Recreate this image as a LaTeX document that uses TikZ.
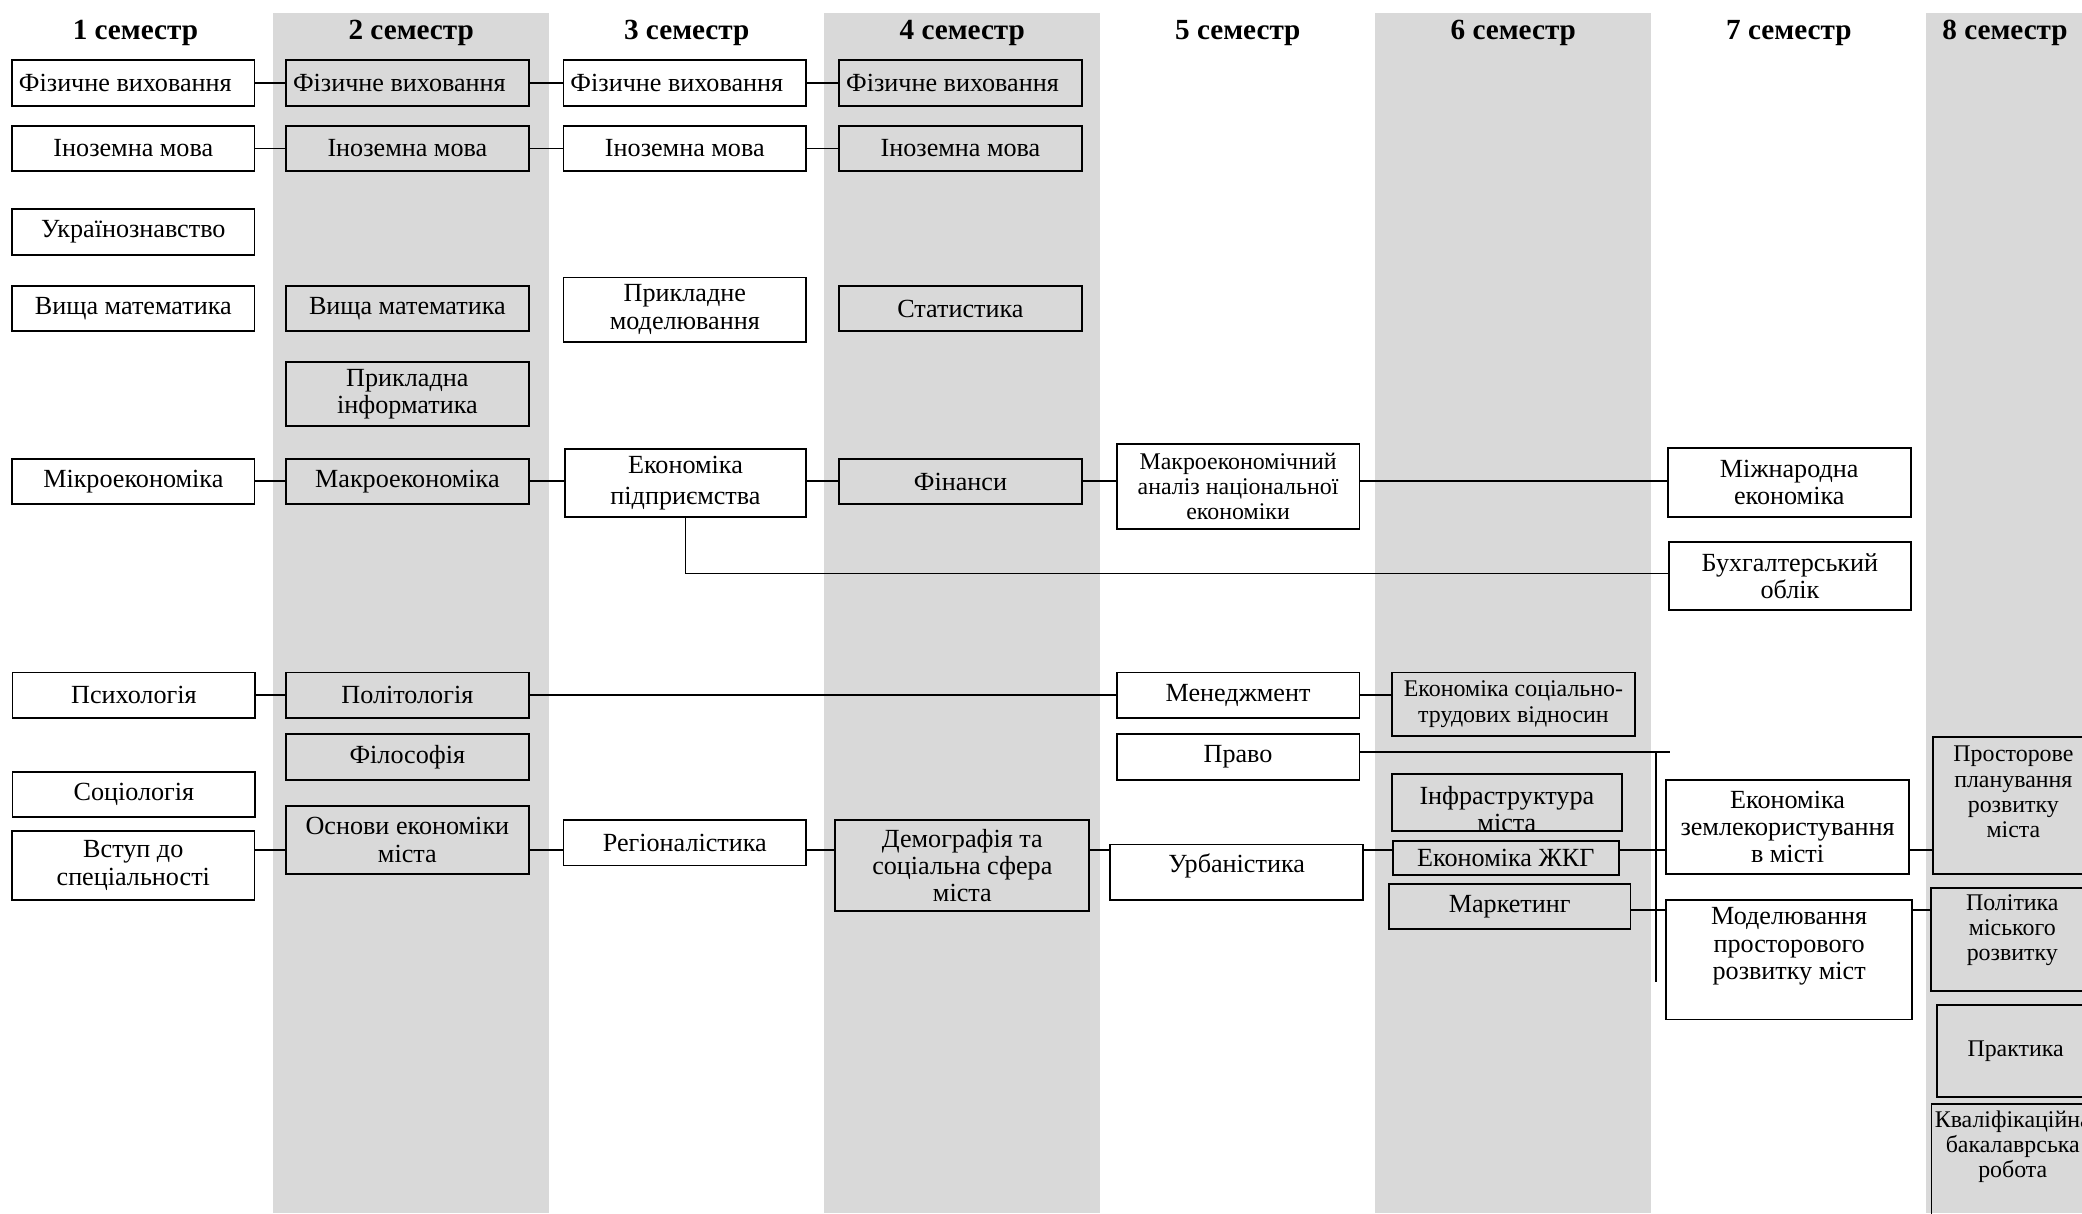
\documentclass[tikz,border=0pt]{standalone}
\usepackage{fontspec}
\setmainfont{Liberation Serif}
\definecolor{colgray}{HTML}{D9D9D9}
\tikzset{
  boxst/.style={draw=black, line width=1.3pt, inner sep=0pt, rectangle},
  txt/.style={align=center, font=\fontsize{19.7}{20.5}\selectfont, inner sep=0pt},
  hdr/.style={font=\fontsize{22}{24}\selectfont\bfseries, inner sep=0pt},
  conn/.style={line width=1.3pt},
  colband/.style={fill=colgray, draw=none}
}
% \bx[text options]{name}{x1}{y1}{x2}{y2}{text}
\newcommand\bx[7][]{%
  \node[boxst, minimum width={(#5-#3)*1pt}, minimum height={(#6-#4)*1pt}] (#2) at ({(#3+#5)/2},{(#4+#6)/2}) {};
  \node[txt,#1] (#2t) at (#2.center) {#7};
}
\begin{document}
\begin{tikzpicture}[x=1pt,y=-1pt]
\useasboundingbox (0,0) rectangle (1568,914);
\clip (0,0) rectangle (1568,914);
% column bands
\path[colband] (205.8,9.5) rectangle (413.5,913.5);
\path[colband] (620.6,9.5) rectangle (828.1,913.5);
\path[colband] (1035.8,9.5) rectangle (1243.4,913.5);
\path[colband] (1450.4,9.5) rectangle (1570,913.5);
% headers
\node[hdr] (h1) at (102,25) {1 семестр};
\node[hdr] (h2) at (309.7,25) {2 семестр};
\node[hdr] (h3) at (517.2,25) {3 семестр};
\node[hdr] (h4) at (724.7,25) {4 семестр};
\node[hdr] (h5) at (932.2,25) {5 семестр};
\node[hdr] (h6) at (1139.7,25) {6 семестр};
\node[hdr] (h7) at (1347.2,25) {7 семестр};
\node[hdr] (h8) at (1510,25) {8 семестр};
% column 1
\bx[xshift=-6pt]{fv1}{9.1}{45.4}{191.7}{79.8}{Фізичне виховання}
\bx{im1}{9.1}{94.7}{191.7}{129}{Іноземна мова}
\bx{ukr}{9.1}{157.6}{191.7}{192}{Українознавство}
\bx{vm1}{9.1}{215.2}{191.7}{249.5}{Вища математика}
\bx{mik}{9.1}{345.7}{191.7}{379.8}{Мікроекономіка}
\bx{psy}{9.4}{506.4}{192.3}{540.5}{Психологія}
\bx{soc}{9.4}{581.2}{192.3}{615.5}{Соціологія}
\bx{vst}{9.1}{625.8}{191.7}{677.8}{Вступ до\\спеціальності}
% column 2
\bx[xshift=-6pt]{fv2}{215.2}{45.4}{398.4}{79.8}{Фізичне виховання}
\bx{im2}{215.2}{94.7}{398.4}{129}{Іноземна мова}
\bx{vm2}{215.2}{215.2}{398.4}{249.5}{Вища математика}
\bx{pinf}{215.2}{272.4}{398.4}{320.8}{Прикладна\\інформатика}
\bx{mak}{215.2}{345.7}{398.4}{379.8}{Макроекономіка}
\bx{pol}{215.2}{506.4}{398.4}{540.5}{Політологія}
\bx{fil}{215.2}{553}{398.4}{587.5}{Філософія}
\bx{osn}{215.2}{607}{398.4}{658.2}{Основи економіки\\міста}
% column 3
\bx[xshift=-6pt]{fv3}{424.3}{45.4}{607.2}{79.8}{Фізичне виховання}
\bx{im3}{424.3}{94.7}{607.2}{129}{Іноземна мова}
\bx{pmod}{424.3}{208.9}{607.2}{257.3}{Прикладне\\моделювання}
\bx[font=\fontsize{19.7}{23.5}\selectfont]{ep}{425.3}{338.2}{607.2}{389.4}{Економіка\\підприємства}
\bx{reg}{424.3}{617.6}{607.2}{651.9}{Регіоналістика}
% column 4
\bx[xshift=-6pt]{fv4}{631.7}{45.4}{815}{79.8}{Фізичне виховання}
\bx{im4}{631.7}{94.7}{815}{129}{Іноземна мова}
\bx{stat}{631.7}{215.2}{815}{249.5}{Статистика}
\bx{fin}{631.7}{345.7}{815}{379.8}{Фінанси}
\bx{dem}{629.1}{617.6}{820.4}{686.1}{Демографія та\\соціальна сфера\\міста}
% column 5
\bx[font=\fontsize{18}{19}\selectfont]{mana}{841}{334.6}{1023.8}{398.4}{Макроекономічний\\аналіз національної\\економіки}
\bx{men}{841}{506.4}{1023.8}{540.5}{Менеджмент}
\bx{pravo}{841}{553}{1023.8}{587.5}{Право}
\bx[yshift=5pt]{urb}{836.2}{635.9}{1026.5}{677.8}{Урбаністика}
% column 6
\bx[font=\fontsize{18}{20}\selectfont]{est}{1048.3}{506.4}{1231.3}{554.3}{Економіка соціально-\\трудових відносин}
\bx[yshift=-5pt]{infr}{1048.3}{583}{1221.4}{625.9}{Інфраструктура\\міста}
\bx{zhkg}{1049}{633.1}{1219.2}{659.2}{Економіка ЖКГ}
\bx{mar}{1046}{665.8}{1228}{699.9}{Маркетинг}
% column 7
\bx{mizh}{1256}{337.6}{1439}{389.4}{Міжнародна\\економіка}
\bx{buh}{1256.7}{408}{1439.3}{459.4}{Бухгалтерський\\облік}
\bx{zem}{1254.9}{587.4}{1437.6}{658.2}{Економіка\\землекористування\\в місті}
\bx[yshift=10pt]{mod}{1254.9}{677.8}{1440}{767.7}{Моделювання\\просторового\\розвитку міст}
% column 8
\bx[font=\fontsize{18}{19}\selectfont,yshift=10pt]{pros}{1455.6}{554.8}{1577}{658.2}{Просторове\\планування\\розвитку\\міста}
\bx[font=\fontsize{18}{19}\selectfont,yshift=7pt]{pmr}{1454}{669}{1577}{746.4}{Політика\\міського\\розвитку}
\bx[font=\fontsize{18}{19}\selectfont]{prak}{1459}{756.9}{1577}{826}{Практика}
\bx[font=\fontsize{18}{19}\selectfont,yshift=17pt]{kval}{1454.7}{831.4}{1577}{930}{Кваліфікаційна\\бакалаврська\\робота}
% helper coordinates
\coordinate (L362) at (0,362);
\coordinate (L432) at (0,432);
\coordinate (L640) at (0,640);
\coordinate (L566) at (0,566.6);
\coordinate (L685) at (0,685.5);
\coordinate (pravoEnd) at (1257.5,566.6);
\coordinate (busT) at (1247,566.6);
\coordinate (busB) at (1247,739.3);
% connectors
\draw[conn] (fv1.east) -- (fv2.west);
\draw[conn] (fv2.east) -- (fv3.west);
\draw[conn] (fv3.east) -- (fv4.west);
\draw[conn] (im1.east) -- (im2.west);
\draw[conn] (im2.east) -- (im3.west);
\draw[conn] (im3.east) -- (im4.west);
\draw[conn] (mik.east |- L362) -- (mak.west |- L362);
\draw[conn] (mak.east |- L362) -- (ep.west |- L362);
\draw[conn] (ep.east |- L362) -- (fin.west |- L362);
\draw[conn] (fin.east |- L362) -- (mana.west |- L362);
\draw[conn] (mana.east |- L362) -- (mizh.west |- L362);
\draw[conn] (ep.south) |- (buh.west |- L432);
\draw[conn] (psy.east) -- (pol.west);
\draw[conn] (pol.east) -- (men.west);
\draw[conn] (men.east) -- (est.west |- men.east);
\draw[conn] (vst.east |- L640) -- (osn.west |- L640);
\draw[conn] (osn.east |- L640) -- (reg.west |- L640);
\draw[conn] (reg.east |- L640) -- (dem.west |- L640);
\draw[conn] (dem.east |- L640) -- (urb.west |- L640);
\draw[conn] (urb.east |- L640) -- (zhkg.west |- L640);
\draw[conn] (zhkg.east |- L640) -- (zem.west |- L640);
\draw[conn] (zem.east |- L640) -- (pros.west |- L640);
\draw[conn] (pravo.east |- L566) -- (pravoEnd);
\draw[conn] (busT) -- (busB);
\draw[conn] (mar.east |- L685) -- (mod.west |- L685);
\draw[conn] (mod.east |- L685) -- (pmr.west |- L685);
\end{tikzpicture}
\end{document}
